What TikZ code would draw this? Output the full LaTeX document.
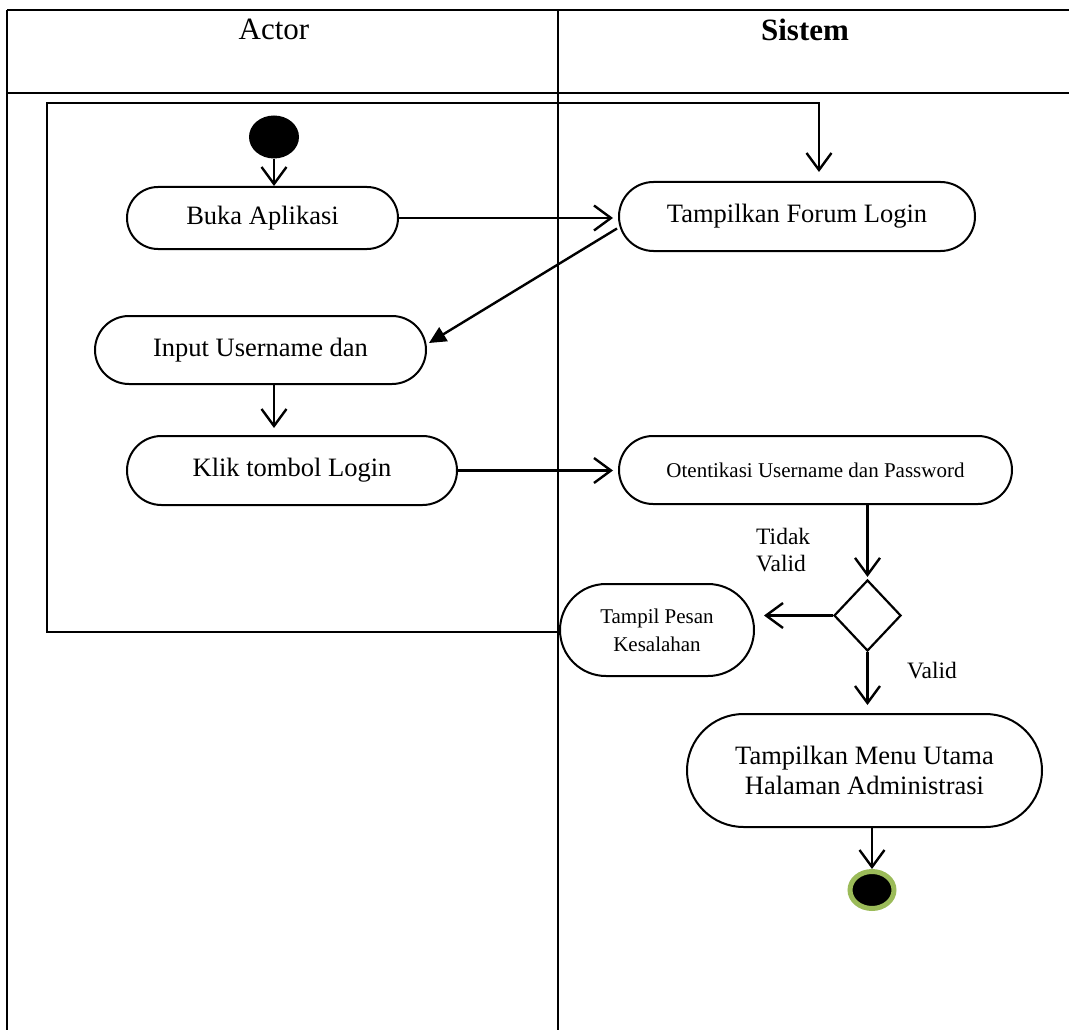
\documentclass[tikz,border=0pt]{standalone}
\usepackage{fontspec}
\setmainfont{Liberation Serif}
\usetikzlibrary{arrows.meta,shapes.misc,shapes.geometric,calc}
\definecolor{ringgreen}{HTML}{9BBB59}
\begin{document}
\begin{tikzpicture}[x=1pt,y=-1pt,
  tbl/.style={line width=2.8pt},
  act/.style={rounded rectangle, draw, line width=2pt, inner sep=0pt,
    align=center, font=\fontsize{26.5}{30}\selectfont},
  actsmall/.style={act, font=\fontsize{21}{28}\selectfont},
  lbl/.style={inner sep=0pt, align=left, font=\fontsize{23.5}{27}\selectfont},
  flow/.style={line width=2.4pt, -{Straight Barb[length=17pt,width=25pt,line width=2.4pt]}},
  flowfill/.style={line width=2.4pt, -{Triangle[length=17pt,width=16pt]}}]
\useasboundingbox (0,0) rectangle (1069,1030);

% swimlane table
\draw[tbl] (7,10) -- (1069,10);
\draw[tbl] (7,93) -- (1069,93);
\draw[tbl] (7,10) -- (7,1030);
\draw[tbl] (558,10) -- (558,1030);
\node[anchor=base, inner sep=0pt, font=\fontsize{31}{34}\selectfont] (hactor) at (274,40) {Actor};
\node[anchor=base, inner sep=0pt, font=\fontsize{31}{34}\selectfont\bfseries] (hsistem) at (805,41) {Sistem};

% activities
\node[ellipse, fill=black, minimum width=50pt, minimum height=43pt, inner sep=0pt] (start) at (274,137) {};
\node[act, minimum width=271pt, minimum height=62pt] (buka) at (262.5,218) {Buka Aplikasi};
\node[act, minimum width=356pt, minimum height=69pt] (forum) at (797,216.5) {Tampilkan Forum Login};
\node[act, minimum width=331pt, minimum height=68pt] (input) at (260.5,350) {Input Username dan};
\node[act, minimum width=330pt, minimum height=69pt] (klik) at (292,470.5) {Klik tombol Login};
\node[actsmall, minimum width=393pt, minimum height=68pt] (oten) at (815.5,470) {Otentikasi Username dan Password};
\node[diamond, draw, line width=2.2pt, minimum width=67pt, minimum height=71pt, inner sep=0pt] (dec) at (867.5,615.5) {};
\node[actsmall, minimum width=194pt, minimum height=92pt] (pesan) at (657,630) {Tampil Pesan\\Kesalahan};
\node[act, minimum width=355pt, minimum height=113pt] (menu) at (864.5,770.5) {Tampilkan Menu Utama\\Halaman Administrasi};
\node[ellipse, fill=black, draw=ringgreen, line width=5pt, minimum width=44pt, minimum height=37pt, inner sep=0pt] (end) at (872,890) {};

% guard labels
\node[lbl, anchor=west] (tidak) at (756,550) {Tidak\\Valid};
\node[lbl, anchor=base west] (valid) at (907,678) {Valid};

% control flow
\draw[flow] (start.south) -- (start.south |- buka.north);
\draw[flow, shorten >=5pt] (buka.east) -- (buka.east -| forum.west);
\draw[flowfill] ($(forum.west)+(-1,12)$) -- ($(input.east)+(2,-7)$);
\draw[flow, shorten >=7pt] (input.south -| start.south) -- (klik.north -| start.south);
\draw[flow, shorten >=5pt] (klik.east) -- (klik.east -| oten.west);
\draw[flow, shorten >=2pt] (oten.south -| dec.north) -- (dec.north);
\draw[flow, shorten >=9pt] (dec.west) -- (dec.west -| pesan.east);
\draw[flow, shorten >=8pt] (dec.south) -- (dec.south |- menu.north);
\draw[flow] (menu.south -| end.north) -- (end.north);

% loop back to the login form
\coordinate (lpbottom) at (47,632);
\coordinate (lptop) at (47,103);
\coordinate (lpx) at (819,103);
\draw[flow, shorten >=9pt] (pesan.west |- lpbottom) -- (lpbottom) -- (lptop) -- (lpx) -- (lpx |- forum.north);
\end{tikzpicture}
\end{document}
